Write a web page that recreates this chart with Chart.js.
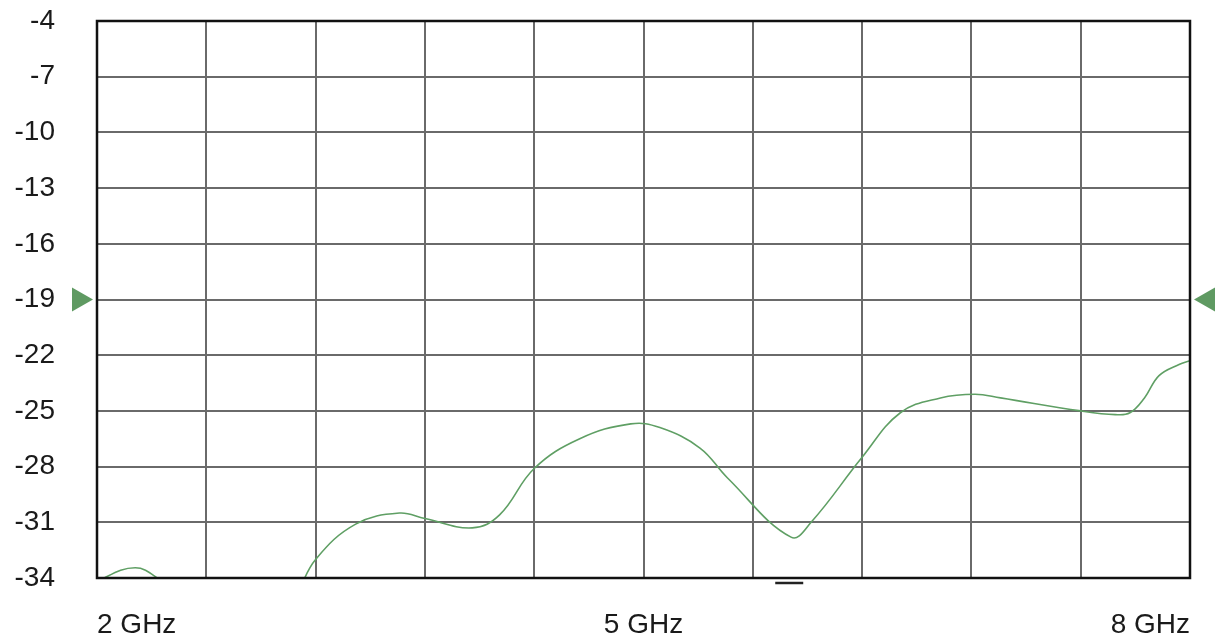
<!DOCTYPE html>
<html lang="en">
<head>
    <meta charset="UTF-8">
    <title>Return loss 2-8 GHz</title>
    <style>
        html, body { margin: 0; padding: 0; background: #fff; }
        #wrap { width: 1225px; height: 637px; }
    </style>
</head>
<body>
    <div id="wrap">
        <canvas id="myChart" width="1225" height="637"></canvas>
    </div>

    <script src="https://cdn.jsdelivr.net/npm/chart.js"></script>
    <script>
        // frequency (GHz) and level (dB)
        const freqs = [2.00, 2.04, 2.21, 2.33, 2.57, 2.84, 3.06, 3.20, 3.42, 3.66, 3.80, 4.06, 4.21, 4.40, 4.65, 4.93, 5.09, 5.31, 5.46, 5.81, 5.92, 6.20, 6.41, 6.63, 6.82, 6.96, 7.40, 7.59, 7.67, 7.75, 7.83, 7.94, 8.00];
        const levels = [-34.5, -34.0, -33.45, -34.0, -36.0, -36.5, -35.3, -33.0, -31.1, -30.5, -30.8, -31.3, -30.6, -28.1, -26.5, -25.7, -25.9, -27.0, -28.6, -31.8, -31.0, -27.5, -25.1, -24.3, -24.1, -24.3, -25.0, -25.2, -25.1, -24.3, -23.1, -22.5, -22.3];

        const xLabelled = [2, 5, 8];
        const refLevel = -19;      // green reference arrows
        const markerFreq = 5.8;    // small marker dash below axis

        const points = freqs.map((f, i) => ({ x: f, y: levels[i] }));

        const frame = {
            id: 'frame',
            afterDraw(chart) {
                const { ctx, chartArea: a, scales } = chart;
                ctx.save();
                ctx.strokeStyle = '#111';
                ctx.lineWidth = 2.5;
                ctx.strokeRect(a.left, a.top, a.right - a.left, a.bottom - a.top);

                // reference level arrows
                const y = scales.y.getPixelForValue(refLevel);
                ctx.fillStyle = '#5f9a62';
                ctx.beginPath();
                ctx.moveTo(a.left - 25, y - 12);
                ctx.lineTo(a.left - 4, y);
                ctx.lineTo(a.left - 25, y + 12);
                ctx.closePath();
                ctx.fill();
                ctx.beginPath();
                ctx.moveTo(a.right + 25, y - 12);
                ctx.lineTo(a.right + 4, y);
                ctx.lineTo(a.right + 25, y + 12);
                ctx.closePath();
                ctx.fill();

                // marker dash
                const mx = scales.x.getPixelForValue(markerFreq);
                ctx.strokeStyle = '#222';
                ctx.lineWidth = 2.5;
                ctx.beginPath();
                ctx.moveTo(mx - 14, a.bottom + 5);
                ctx.lineTo(mx + 14, a.bottom + 5);
                ctx.stroke();
                ctx.restore();
            }
        };

        const font = { family: '"Liberation Sans", Arial, sans-serif', size: 28 };

        const ctx = document.getElementById('myChart');
        const chart = new Chart(ctx, {
            type: 'line',
            data: {
                datasets: [{
                    data: points,
                    borderColor: '#5f9f64',
                    borderWidth: 1.6,
                    pointRadius: 0,
                    tension: 0.4,
                    fill: false
                }]
            },
            options: {
                responsive: false,
                animation: false,
                layout: { padding: { top: 21, right: 35, left: 0, bottom: 0 } },
                plugins: { legend: { display: false }, tooltip: { enabled: false } },
                scales: {
                    x: {
                        type: 'linear',
                        min: 2,
                        max: 8,
                        afterBuildTicks(axis) {
                            axis.ticks = [];
                            for (let k = 0; k <= 10; k++) axis.ticks.push({ value: +(2 + k * 0.6).toFixed(2) });
                        },
                        afterFit(axis) {
                            axis.height = 59;
                            axis.paddingLeft = 0;
                            axis.paddingRight = 0;
                        },
                        grid: { color: '#6a6a6a', lineWidth: 2, drawTicks: false },
                        border: { display: false },
                        ticks: {
                            font: font,
                            color: '#1a1a1a',
                            padding: 30,
                            align: 'inner',
                            maxRotation: 0,
                            autoSkip: false,
                            callback: v => xLabelled.some(l => Math.abs(l - v) < 1e-6) ? Math.round(v) + ' GHz' : ''
                        }
                    },
                    y: {
                        min: -34,
                        max: -4,
                        afterFit(axis) {
                            axis.width = 97;
                            axis.paddingTop = 0;
                            axis.paddingBottom = 0;
                        },
                        grid: { color: '#6a6a6a', lineWidth: 2, drawTicks: false },
                        border: { display: false },
                        ticks: {
                            stepSize: 3,
                            font: font,
                            color: '#1a1a1a',
                            padding: 42
                        }
                    }
                }
            },
            plugins: [frame]
        });
    </script>
</body>
</html>
